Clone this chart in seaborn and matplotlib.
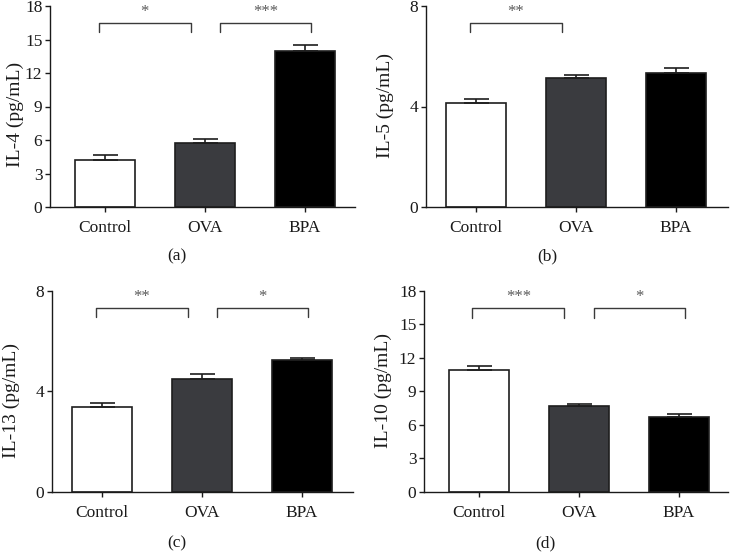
import matplotlib
matplotlib.use("Agg")
import matplotlib.pyplot as plt
import seaborn as sns
import pandas as pd

groups = ["Control", "OVA", "BPA"]

il4_mean = [4.2, 5.7, 14.0]
il4_err = [0.42, 0.35, 0.48]
il5_mean = [4.14, 5.12, 5.35]
il5_err = [0.17, 0.13, 0.17]
il13_mean = [3.36, 4.49, 5.23]
il13_err = [0.16, 0.18, 0.09]
il10_mean = [10.9, 7.7, 6.66]
il10_err = [0.38, 0.15, 0.26]

panels = [
    dict(mean=il4_mean, err=il4_err, ylabel="IL-4 (pg/mL)", ymax=18, yticks=[0, 3, 6, 9, 12, 15, 18],
         tag="(a)", sig=[(0, 1, "*"), (1, 2, "***")], by=16.5, drop=0.8, sy=17.5,
         pos=[50, 355, 6, 207], xlim=(-0.55, 2.5), tagpos=(177, 256), lab=(15, 114)),
    dict(mean=il5_mean, err=il5_err, ylabel="IL-5 (pg/mL)", ymax=8, yticks=[0, 4, 8],
         tag="(b)", sig=[(0, 1, "**")], by=7.31, drop=0.36, sy=7.77,
         pos=[426, 728, 6, 207], xlim=(-0.5, 2.52), tagpos=(547, 256), lab=(385, 105)),
    dict(mean=il13_mean, err=il13_err, ylabel="IL-13 (pg/mL)", ymax=8, yticks=[0, 4, 8],
         tag="(c)", sig=[(0, 1, "**"), (1, 2, "*")], by=7.3, drop=0.36, sy=7.76,
         pos=[52, 353, 290.7, 491.7], xlim=(-0.5, 2.51), tagpos=(177, 543), lab=(11, 400)),
    dict(mean=il10_mean, err=il10_err, ylabel="IL-10 (pg/mL)", ymax=18, yticks=[0, 3, 6, 9, 12, 15, 18],
         tag="(d)", sig=[(0, 1, "***"), (1, 2, "*")], by=16.42, drop=0.82, sy=17.46,
         pos=[424, 728, 290.7, 491.7], xlim=(-0.55, 2.49), tagpos=(545, 543), lab=(383, 391)),
]

sns.set_theme(style="ticks")
plt.rcParams["font.family"] = ["Liberation Serif", "DejaVu Serif"]
plt.rcParams["axes.linewidth"] = 1.0

W, H = 730, 553
fig = plt.figure(figsize=(W / 100, H / 100), dpi=100)
fig.patch.set_facecolor("white")

colors = ["#ffffff", "#3a3b3f", "#000000"]
edge = "#1e1e1e"

for p in panels:
    l, r, t, b = p["pos"]
    ax = fig.add_axes([l / W, 1 - b / H, (r - l) / W, (b - t) / H])
    df = pd.DataFrame({"group": groups, "value": p["mean"]})
    sns.barplot(data=df, x="group", y="value", hue="group", order=groups, hue_order=groups,
                palette=colors, edgecolor=edge, linewidth=1.2, width=0.6,
                errorbar=None, legend=False, ax=ax, saturation=1)
    xs = list(range(len(groups)))
    ax.errorbar(xs, p["mean"], yerr=[[0] * 3, p["err"]], fmt="none", ecolor=edge,
                elinewidth=1.2, capsize=9, capthick=1.2, zorder=3)
    ax.set_xlim(*p["xlim"])
    ax.set_ylim(0, p["ymax"])
    ax.set_yticks(p["yticks"])
    ax.set_xlabel("")
    ax.set_ylabel(p["ylabel"], fontsize=14, color="#1a1a1a", va="center")
    lx, ly = p["lab"]
    ax.yaxis.set_label_coords((lx - l) / (r - l), (b - ly) / (b - t))
    ax.tick_params(axis="x", labelsize=12.5, length=3.5, width=1.0, colors="#1a1a1a", pad=6)
    ax.tick_params(axis="y", labelsize=12.5, length=3.5, width=1.0, colors="#1a1a1a", pad=2)
    for s in ["top", "right"]:
        ax.spines[s].set_visible(False)
    for s in ["left", "bottom"]:
        ax.spines[s].set_color("#1a1a1a")
    for i, j, lab in p["sig"]:
        if i == 0:
            x0, x1 = i - 0.065, j - 0.145
        else:
            x0, x1 = i + 0.15, j + 0.06
        yb = p["by"]
        ax.plot([x0, x0, x1, x1], [yb - p["drop"], yb, yb, yb - p["drop"]],
                color="#3a3a3a", lw=1.0, clip_on=False)
        ax.text((x0 + x1) / 2, p["sy"], lab, ha="center", va="center",
                fontsize=12, color="#5a5a5a", clip_on=False)
    fig.text(p["tagpos"][0] / W, 1 - p["tagpos"][1] / H, p["tag"], ha="center", va="center",
             fontsize=12.5, color="#1a1a1a")

fig.savefig("out.png", dpi=100, facecolor="white")
